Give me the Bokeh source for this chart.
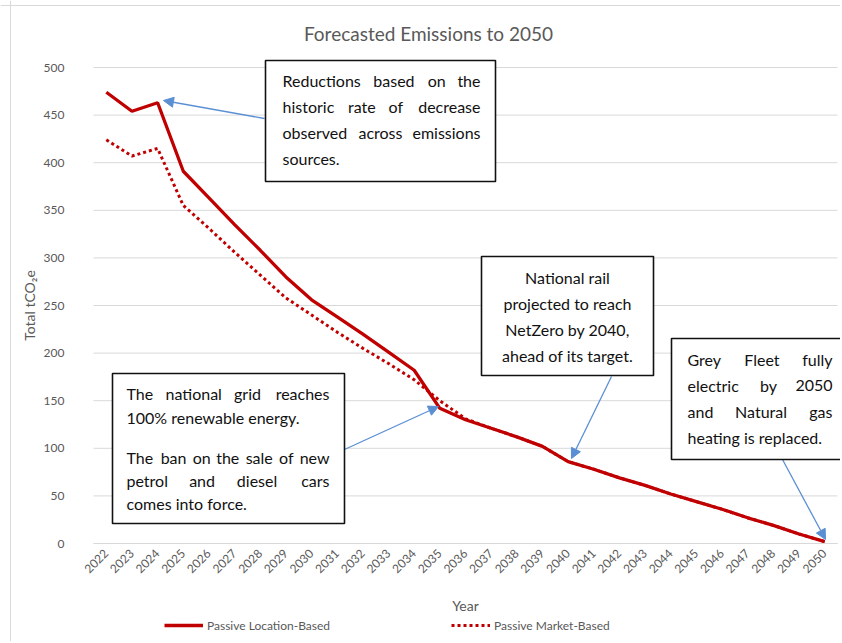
import math
from bokeh.plotting import figure
from bokeh.models import (Range1d, FixedTicker, Label, BoxAnnotation, Arrow,
                          NormalHead, Legend, LegendItem, ColumnDataSource, Span)
from bokeh.embed import file_html
from bokeh.resources import INLINE

# ---------------- data ----------------
years = list(range(2022, 2051))
location_based = [474, 454, 463, 391, 363, 335, 308, 280, 256, 238, 220, 201, 182,
                  142, 130, 121, 112, 102, 86, 78, 69, 61, 52, 44, 36, 27, 19, 10, 2]
market_based = [424, 407, 415, 355, 331, 306, 282, 258, 240, 222, 205, 189, 172,
                150, 131, 121, 112, 102, 86, 78, 69, 61, 52, 44, 36, 27, 19, 10, 2]
y_ticks = [0, 50, 100, 150, 200, 250, 300, 350, 400, 450, 500]
series_names = ["Passive Location-Based", "Passive Market-Based"]
title_text = "Forecasted Emissions to 2050"
x_title = "Year"
y_title = "Total tCO\u2082e"

note1 = ["Reductions based on the", "historic rate of decrease",
         "observed across emissions", "sources."]
note2 = ["The national grid reaches", "100% renewable energy.",
         "The ban on the sale of new", "petrol and diesel cars", "comes into force."]
note3 = ["National rail", "projected to reach", "NetZero by 2040,", "ahead of its target."]
note4 = ["Grey Fleet fully", "electric by 2050", "and Natural gas", "heating is replaced."]

# ---------------- geometry / style ----------------
FONT = "Lato"
GREY = "#595959"
RED = "#C00000"
BLUE = "#5B8FD4"
GRID = "#d9d9d9"
OFF = 2                               # where the figure starts on the page
W, H = 842 - OFF, 643 - OFF
PL, PR, PT, PB = 95, 839, 69, 545     # plot area (x 2021.5..2050.5, y 0..500), page px
X_LO, X_HI = years[0] - 0.5, years[-1] + 0.5
Y_LO, Y_HI = y_ticks[0], y_ticks[-1]
XPX = (PR - PL) / (X_HI - X_LO)
YPX = (PB - PT) / (Y_HI - Y_LO)


def fx(px):
    return X_LO + (px - PL) / XPX


def fy(py):
    return Y_LO + (PB - py) / YPX


# the frame covers the whole canvas so nothing gets clipped; the axes are
# pinned to the plot-area edges with fixed_location
p = figure(width=W, height=H, output_backend="svg", toolbar_location=None,
           x_range=Range1d(fx(OFF), fx(OFF + W)), y_range=Range1d(fy(OFF + H), fy(OFF)),
           min_border=0, min_border_left=0, min_border_right=0,
           min_border_top=0, min_border_bottom=0, title=None)
p.outline_line_color = None
p.background_fill_color = "white"
p.border_fill_color = "white"

# outer chart border (left and top)
p.add_layout(Span(location=fx(12), dimension="height", line_color=GRID, line_width=1))
p.add_layout(Span(location=fy(7), dimension="width", line_color=GRID, line_width=1))

# horizontal gridlines over the plot area only
p.xgrid.grid_line_color = None
p.ygrid.grid_line_color = None
p.segment(x0=[X_LO] * len(y_ticks), x1=[X_HI] * len(y_ticks), y0=y_ticks, y1=y_ticks,
          line_color=GRID, line_width=1)

src = ColumnDataSource(dict(year=years, loc=location_based, mkt=market_based))
r_m = p.line("year", "mkt", source=src, color=RED, line_width=3, line_dash="3 3")
r_l = p.line("year", "loc", source=src, color=RED, line_width=3.3)

# axes
p.yaxis.ticker = FixedTicker(ticks=y_ticks)
p.xaxis.ticker = FixedTicker(ticks=years)
for ax in (p.xaxis[0], p.yaxis[0]):
    ax.major_tick_line_color = None
    ax.minor_tick_line_color = None
    ax.major_tick_out = 0
    ax.major_tick_in = 0
    ax.minor_tick_out = 0
    ax.minor_tick_in = 0
    ax.major_label_text_font = FONT
    ax.major_label_text_font_size = "12px"
    ax.major_label_text_color = GREY
    ax.axis_label_text_font = FONT
    ax.axis_label_text_font_size = "14px"
    ax.axis_label_text_color = GREY
    ax.axis_label_text_font_style = "normal"
p.yaxis.axis_line_color = None
p.yaxis.fixed_location = X_LO
p.yaxis.bounds = (Y_LO, Y_HI)
p.yaxis.major_label_standoff = 29
p.yaxis.axis_label = y_title
p.yaxis.axis_label_standoff = 3
p.xaxis.axis_line_color = GRID
p.xaxis.fixed_location = Y_LO
p.xaxis.bounds = (X_LO, X_HI)
p.xaxis.major_label_orientation = math.pi / 4
p.xaxis.major_label_standoff = 8
p.xaxis.axis_label = x_title
p.xaxis.axis_label_standoff = 17

# title
p.add_layout(Label(x=fx(430), y=fy(35), text=title_text, text_align="center",
                   text_baseline="middle", text_font=FONT, text_font_size="19px",
                   text_color=GREY))

# legend
legend = Legend(items=[LegendItem(label=series_names[0], renderers=[r_l]),
                       LegendItem(label=series_names[1], renderers=[r_m])],
                orientation="horizontal", location=(166 - OFF, 8),
                glyph_width=39, glyph_height=16, label_standoff=4, spacing=121,
                padding=0, margin=0, border_line_color=None,
                background_fill_alpha=0, label_text_font=FONT,
                label_text_font_size="12px", label_text_color=GREY)
p.add_layout(legend, "center")

# ---------------- annotation boxes ----------------
NARROW = set("iljtf.,:;'!|I")
MID = set("rs")
WIDE = set("mwMW%")


def word_w(w, size):
    t = 0.0
    for c in w:
        if c in NARROW:
            t += 0.27
        elif c in MID:
            t += 0.41
        elif c in WIDE:
            t += 0.8
        elif c.isupper():
            t += 0.64
        elif c.isdigit():
            t += 0.58
        else:
            t += 0.54
    return t * size


TXT = 16


def lbl(xp, yp, text, align):
    p.add_layout(Label(x=fx(xp), y=fy(yp), text=text, text_align=align,
                       text_baseline="middle", text_font=FONT,
                       text_font_size=f"{TXT}px", text_color="#111111"))


def block(lines, xl, xr, ys, modes):
    for line, yc, mode in zip(lines, ys, modes):
        words = line.split()
        if mode == "center":
            lbl((xl + xr) / 2, yc, line, "center")
        elif mode == "left" or len(words) == 1:
            lbl(xl, yc, line, "left")
        else:
            ws = [word_w(w, TXT) for w in words]
            gap = (xr - xl - sum(ws)) / (len(words) - 1)
            pos = xl
            for i, (w, wd) in enumerate(zip(words, ws)):
                if i == 0:
                    lbl(xl, yc, w, "left")
                elif i == len(words) - 1:
                    lbl(xr, yc, w, "right")
                else:
                    lbl(pos + wd / 2, yc, w, "center")
                pos += wd + gap


def box(l, r, t, b):
    p.add_layout(BoxAnnotation(left=fx(l), right=fx(r), top=fy(t), bottom=fy(b),
                               fill_color="white", fill_alpha=1.0,
                               line_color="#111111", line_alpha=1.0, line_width=1.6))


def arrow(x0, y0, x1, y1):
    p.add_layout(Arrow(end=NormalHead(size=10, fill_color=BLUE, line_color=BLUE),
                       x_start=fx(x0), y_start=fy(y0), x_end=fx(x1), y_end=fy(y1),
                       line_color=BLUE, line_width=1.3))


arrow(266, 120, 165, 102)
arrow(346, 451, 440, 408)
arrow(613, 378, 573, 460)
arrow(784, 461, 827, 541)

box(267, 497, 62, 183)
block(note1, 284, 482, [82, 108, 134, 160], ["justify", "justify", "justify", "left"])

box(114, 346, 375, 525)
block(note2, 128, 331, [395, 419, 459, 482, 505],
      ["justify", "left", "justify", "justify", "left"])

box(483, 655, 258, 377)
block(note3, 483, 655, [279, 305, 331, 357], ["center"] * 4)

box(673, 850, 340, 461)
block(note4, 689, 834, [361, 387, 413, 439], ["justify", "justify", "justify", "left"])

open("out.html", "w").write(file_html(p, INLINE))
